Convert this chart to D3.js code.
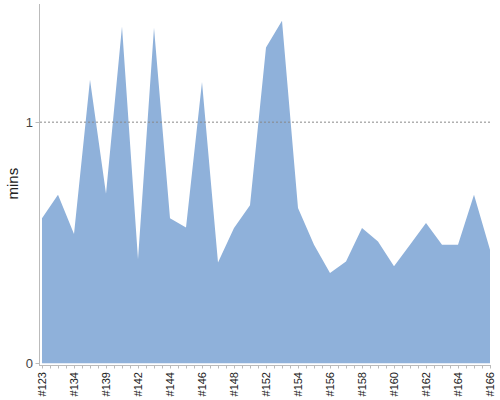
<!DOCTYPE html>
<html>
<head>
<meta charset="utf-8">
<script src="https://cdn.jsdelivr.net/npm/d3@7"></script>
<style>
  body { margin: 0; background: #fff; }
  svg { font-family: "Liberation Sans", Arial, sans-serif; }
</style>
</head>
<body>
<div id="chart"></div>
<script>
// Data

const builds = ["#123", "#130", "#134", "#137", "#139", "#141", "#142", "#143", "#144", "#145",
                "#146", "#147", "#148", "#150", "#152", "#153", "#154", "#155", "#156", "#157",
                "#158", "#159", "#160", "#161", "#162", "#163", "#164", "#165", "#166"];
const durations = [0.602, 0.699, 0.536, 1.176, 0.703, 1.397, 0.432, 1.391, 0.602, 0.563,
                   1.167, 0.418, 0.561, 0.655, 1.310, 1.421, 0.644, 0.492, 0.374, 0.422,
                   0.561, 0.505, 0.402, 0.492, 0.582, 0.492, 0.492, 0.699, 0.471];
const yTicks = [0, 1];
const yMax = 1.49;

// Layout

const width = 500, height = 400;
const plot = {left: 42, right: 490, top: 4, bottom: 363.3};

const svg = d3.select("#chart").append("svg")
    .attr("width", width)
    .attr("height", height);

const x = d3.scalePoint()
    .domain(builds)
    .range([plot.left, plot.right]);

const y = d3.scaleLinear()
    .domain([0, yMax])
    .range([plot.bottom, plot.top]);

// Area

const area = d3.area()
    .x((d, i) => x(builds[i]))
    .y0(y(0))
    .y1(d => y(d));

svg.append("path")
    .datum(durations)
    .attr("fill", "#8fb1da")
    .attr("d", area);

// Dotted line at 1 minute

svg.selectAll(".grid")
    .data(yTicks.filter(d => d > 0))
    .enter()
    .append("line")
        .attr("class", "grid")
        .attr("x1", 40).attr("x2", plot.right)
        .attr("y1", d => y(d)).attr("y2", d => y(d))
        .attr("stroke", "#888")
        .attr("stroke-width", 1)
        .attr("stroke-dasharray", "2,2");

// Y axis

const axisX = 39.5;
svg.append("line")
    .attr("x1", axisX).attr("x2", axisX)
    .attr("y1", plot.top).attr("y2", 366)
    .attr("stroke", "#bbb");

svg.selectAll(".ytick")
    .data(yTicks)
    .enter()
    .append("line")
        .attr("x1", axisX - 4).attr("x2", axisX)
        .attr("y1", d => Math.round(y(d)) + 0.5).attr("y2", d => Math.round(y(d)) + 0.5)
        .attr("stroke", "#bbb");

svg.selectAll(".ylabel")
    .data(yTicks)
    .enter()
    .append("text")
        .attr("x", 33)
        .attr("y", d => y(d))
        .attr("dy", "0.35em")
        .attr("text-anchor", "end")
        .attr("font-size", 13)
        .attr("fill", "#444")
        .text(d => d);

svg.append("text")
    .attr("transform", "translate(18," + ((plot.top + plot.bottom) / 2) + ") rotate(-90)")
    .attr("text-anchor", "middle")
    .attr("font-size", 15)
    .attr("fill", "#222")
    .text("mins");

// X axis

const axisY = 365.5;
svg.append("line")
    .attr("x1", axisX).attr("x2", plot.right + 1)
    .attr("y1", axisY).attr("y2", axisY)
    .attr("stroke", "#bbb");

const step = x.step();
const tickPos = [];
builds.forEach((b, i) => {
    tickPos.push(x(b));
    if (i < builds.length - 1) tickPos.push(x(b) + step / 2);
});

svg.selectAll(".xtick")
    .data(tickPos)
    .enter()
    .append("line")
        .attr("x1", d => Math.round(d) + 0.5).attr("x2", d => Math.round(d) + 0.5)
        .attr("y1", axisY).attr("y2", axisY + 3)
        .attr("stroke", "#bbb");

svg.selectAll(".xlabel")
    .data(builds.filter((b, i) => i % 2 === 0))
    .enter()
    .append("text")
        .attr("transform", d => "translate(" + x(d) + ",372) rotate(-90)")
        .attr("dy", "0.35em")
        .attr("text-anchor", "end")
        .attr("font-size", 11)
        .attr("fill", "#222")
        .text(d => d);
</script>
</body>
</html>
